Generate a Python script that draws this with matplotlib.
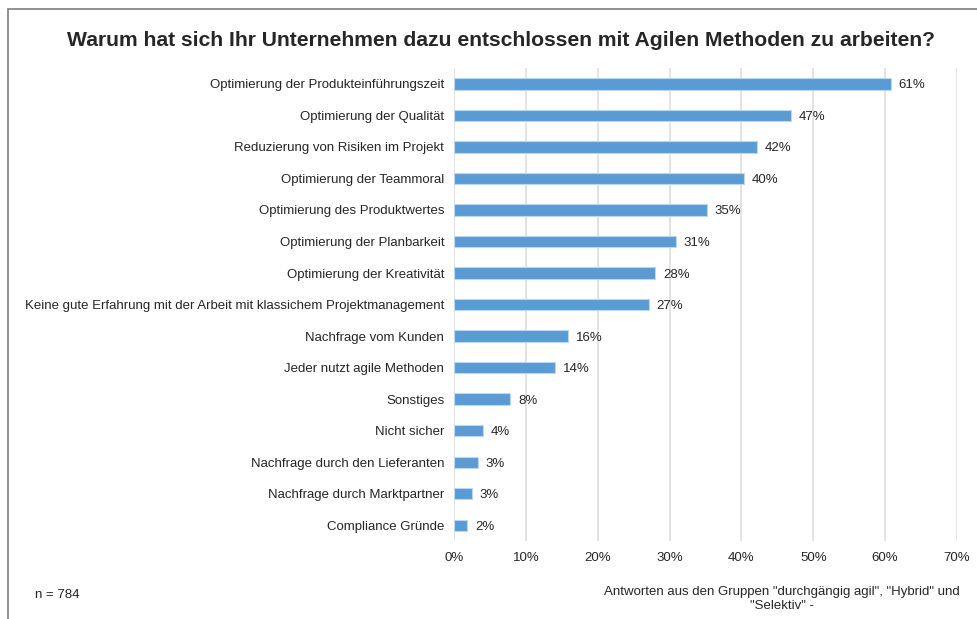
import matplotlib.pyplot as plt
from matplotlib.patches import Rectangle

plt.rcParams['font.family'] = ['Liberation Sans', 'DejaVu Sans']

categories = [
    'Optimierung der Produkteinführungszeit',
    'Optimierung der Qualität',
    'Reduzierung von Risiken im Projekt',
    'Optimierung der Teammoral',
    'Optimierung des Produktwertes',
    'Optimierung der Planbarkeit',
    'Optimierung der Kreativität',
    'Keine gute Erfahrung mit der Arbeit mit klassichem Projektmanagement',
    'Nachfrage vom Kunden',
    'Jeder nutzt agile Methoden',
    'Sonstiges',
    'Nicht sicher',
    'Nachfrage durch den Lieferanten',
    'Nachfrage durch Marktpartner',
    'Compliance Gründe',
]
values = [60.8, 46.9, 42.2, 40.4, 35.2, 30.9, 28.0, 27.1, 15.9, 14.1, 7.8, 4.0, 3.3, 2.5, 1.8]
labels = ['61%', '47%', '42%', '40%', '35%', '31%', '28%', '27%',
          '16%', '14%', '8%', '4%', '3%', '3%', '2%']
xticks = [0, 10, 20, 30, 40, 50, 60, 70]

fig = plt.figure(figsize=(9.78, 6.19), dpi=100)
ax = fig.add_axes([0.4642, 0.126, 0.5143, 0.764])

y = list(range(len(categories)))
ax.barh(y, values, height=0.36, color='#5B9BD5', edgecolor='#BDD7EE', linewidth=0.8, zorder=3)
for yi, v, lab in zip(y, values, labels):
    ax.text(v + 1.1, yi, lab, va='center_baseline', ha='left', fontsize=9.5, color='#262626')

ax.set_ylim(len(categories) - 0.5, -0.5)
ax.set_xlim(0, 70)
ax.set_yticks(y)
ax.set_yticklabels(categories, fontsize=9.5, color='#262626')
ax.set_xticks(xticks)
ax.set_xticklabels([f'{t}%' for t in xticks], fontsize=9.5, color='#262626')
ax.tick_params(axis='both', length=0)
ax.tick_params(axis='y', pad=7)
ax.tick_params(axis='x', pad=8)
ax.grid(axis='x', color='#E0E0E0', linewidth=1.3, zorder=0)
for s in ax.spines.values():
    s.set_visible(False)

fig.text(501 / 978, 1 - 40 / 619, 'Warum hat sich Ihr Unternehmen dazu entschlossen mit Agilen Methoden zu arbeiten?',
         ha='center', va='center', fontsize=15.2, fontweight='bold', color='#262626')
fig.text(35 / 978, 1 - 595 / 619, 'n = 784', ha='left', va='center', fontsize=9.5, color='#262626')
fig.text(782 / 978, 1 - 599 / 619, 'Antworten aus den Gruppen "durchgängig agil", "Hybrid" und\n"Selektiv" -',
         ha='center', va='center', fontsize=9.5, color='#262626', linespacing=1.25)

# frame line at top and left
fig.add_artist(Rectangle((8 / 978, -0.1), 1.2, 1 - 9 / 619 + 0.1, transform=fig.transFigure,
                         fill=False, edgecolor='#7F7F7F', linewidth=1.2))

fig.savefig('out.png', dpi=100)
